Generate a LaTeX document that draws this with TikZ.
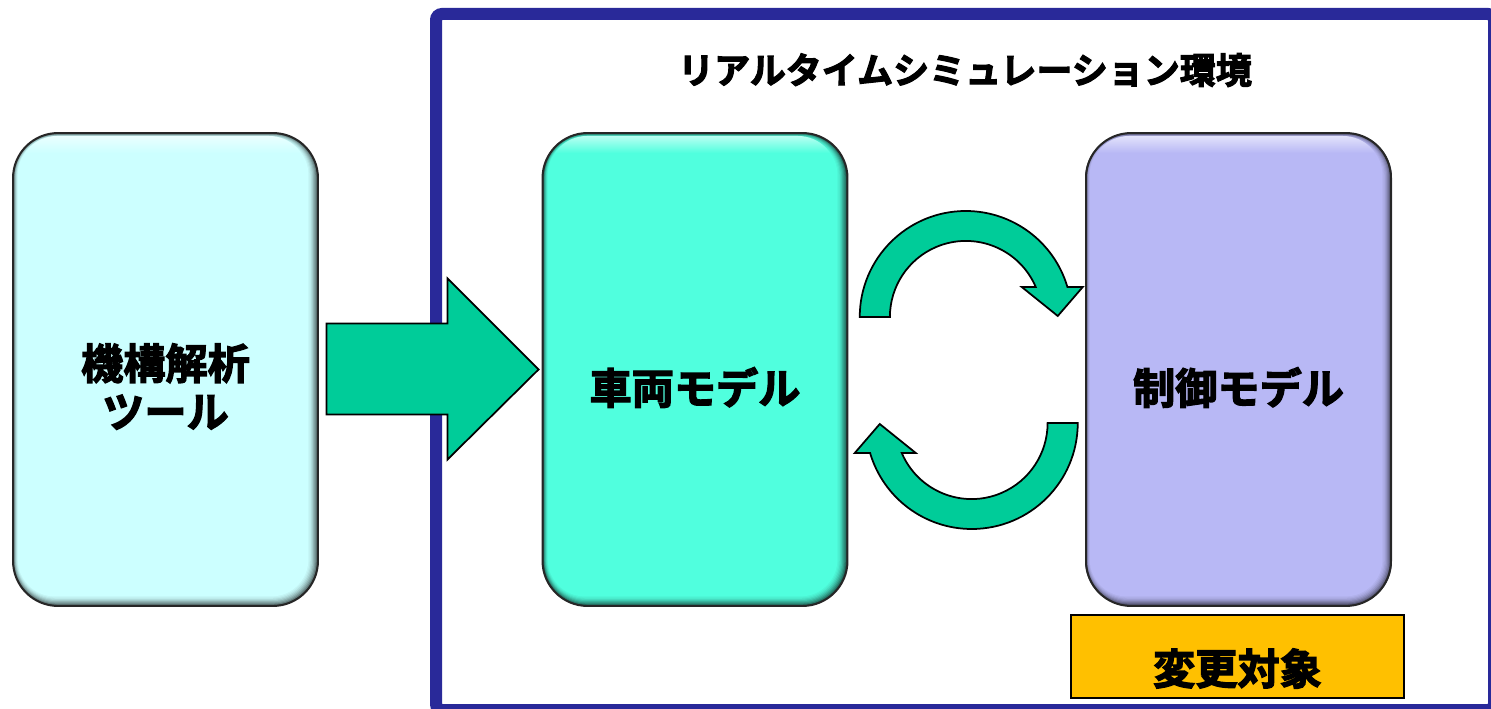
\documentclass[tikz,border=0pt]{standalone}
\usepackage{fontspec}
\usetikzlibrary{calc}
\newfontfamily\jp{Noto Sans CJK JP}[BoldFont={Noto Sans CJK JP Bold}, BoldFeatures={FakeBold=3}]
\definecolor{anacol}{RGB}{204,255,255}
\definecolor{vehcol}{RGB}{80,255,222}
\definecolor{ctlcol}{RGB}{184,184,245}
\definecolor{arrcol}{RGB}{0,204,153}
\definecolor{framecol}{RGB}{41,41,153}
\definecolor{tagcol}{RGB}{255,192,0}
\newcommand\bevelfill[5]{%
  \foreach \i/\m in {0/35,1/48,2/60,3/70,4/79,5/86,6/92,7/96,8/100}{%
    \pgfmathsetmacro\rr{(45-\i)*0.02}%
    \fill[#5!\m!black, rounded corners=\rr cm] (#1+0.6*\i,-#2-0.6*\i) rectangle (#3-1.2*\i,-#4+1.2*\i);
  }%
  \begin{scope}
    \clip[rounded corners=0.78cm] (#1+5,-#2-3) rectangle (#3-10,-#4+10);
    \shade[top color=#5!30!white, bottom color=#5] (#1,-#2) rectangle (#3,-#2-20);
  \end{scope}
}
\tikzset{
  box/.style={draw=black!85, line width=0.04cm, rounded corners=0.9cm, minimum width=6.1cm, minimum height=9.46cm, inner sep=0pt},
  boxtext/.style={font=\jp\bfseries\fontsize{24}{27.5}\selectfont, align=center, inner sep=0pt},
  fatarrow/.style={fill=arrcol, draw=black, line width=0.035cm, line join=miter},
  cyclearrow/.pic={\draw[fatarrow] (-106,0) arc (180:16.4:106) -- (117,30) -- (92,1) -- (56,30) -- (70,30) arc (23.2:180:76) -- cycle;}
}
\begin{document}
\begin{tikzpicture}[x=0.02cm,y=0.02cm]
\useasboundingbox (0,0) rectangle (1491,-709);
\clip (0,0) rectangle (1491,-709);
% environment frame
\draw[framecol, line width=0.24cm, rounded corners=0.12cm] (436,-14) rectangle (1494,-710);
\node[font=\jp\bfseries\fontsize{20.5}{24}\selectfont, inner sep=0pt] (title) at (965,-70) {リアルタイムシミュレーション環境};
% boxes
\bevelfill{13}{133}{318}{606}{anacol}
\bevelfill{543}{133}{847}{606}{vehcol}
\bevelfill{1085}{133}{1392}{606}{ctlcol}
\node[box] (ana) at (165.5,-369.5) {};
\node[box] (veh) at (695,-369.5) {};
\node[box] (ctl) at (1238.5,-369.5) {};
\node[boxtext] (anat) at ($(ana.center)+(0,-17)$) {機構解析\\ツール};
\node[boxtext] (veht) at ($(veh.center)+(0,-18)$) {車両モデル};
\node[boxtext] (ctlt) at ($(ctl.center)+(0,-18)$) {制御モデル};
% change target tag
\node[draw=black, line width=0.035cm, fill=tagcol, minimum width=6.66cm, minimum height=1.66cm, inner sep=0pt] (tag) at (1237.5,-656.5) {};
\node[boxtext] (tagt) at ($(tag.center)+(0,-12)$) {変更対象};
% big arrow
\draw[fatarrow] ([shift={(-3,0)}]veh.west) -- ++(-91,91) -- ++(0,-45) -- ++(-121,0) -- ++(0,-91) -- ++(121,0) -- ++(0,-45) -- cycle;
% cycle arrows
\pic at ($(veh.east)!0.5!(ctl.west)+(-1,52.5)$) {cyclearrow};
\pic[rotate=180] at ($(veh.east)!0.5!(ctl.west)+(5,-53.5)$) {cyclearrow};
\end{tikzpicture}
\end{document}
